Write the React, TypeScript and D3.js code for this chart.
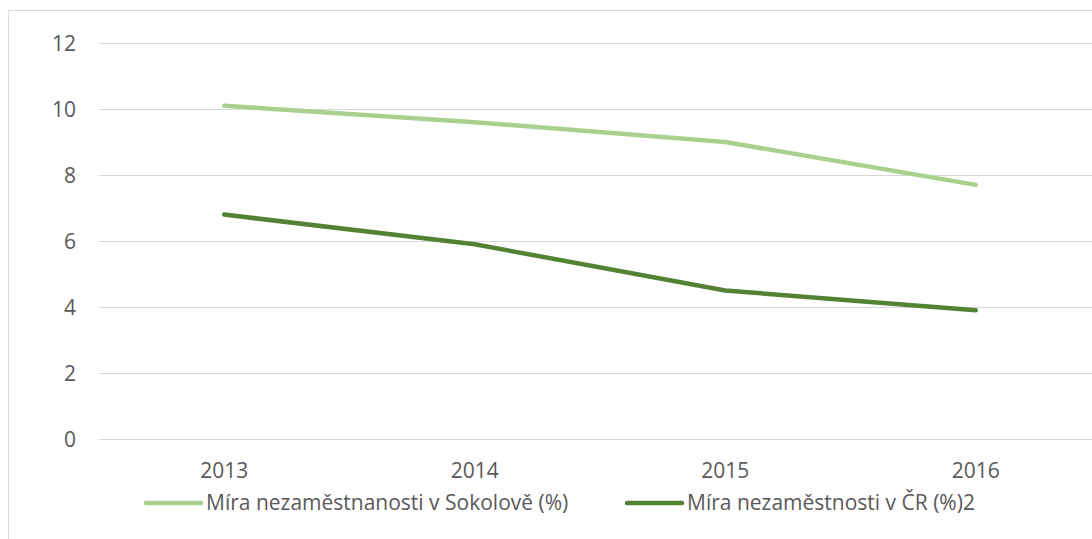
import React from "react";
import * as d3 from "d3";

const years = ["2013", "2014", "2015", "2016"];
const sokolov = [10.1, 9.6, 9.0, 7.7];
const cr = [6.8, 5.9, 4.5, 3.9];
const yTicks = [0, 2, 4, 6, 8, 10, 12];
const seriesNames = ["Míra nezaměstnanosti v Sokolově (%)", "Míra nezaměstnosti v ČR (%)2"];
const seriesColors = ["#A9D18E", "#548235"];

const W = 1092;
const H = 539;
const FONT = "'Open Sans', sans-serif";
const FS = 21;

export default function App() {
  const x = d3.scaleBand<string>().domain(years).range([99, 1101]);
  const y = d3.scaleLinear().domain([0, 12]).range([439, 43]);
  const cx = (d: string) => (x(d) as number) + x.bandwidth() / 2;
  const line = d3
    .line<number>()
    .x((_, i) => cx(years[i]))
    .y((v) => y(v));
  const series = [sokolov, cr];
  const legendX = [146, 627];

  return (
    <div style={{ position: "fixed", left: 0, top: 0, width: W, height: H, background: "#fff" }}>
      <svg width={W} height={H} style={{ display: "block" }}>
        <rect x={0} y={0} width={W} height={H} fill="#fff" />
        <rect x={8.5} y={10.5} width={W + 20} height={H + 20} fill="#fff" stroke="#D9D9D9" strokeWidth={1} />
        {yTicks.map((t) => (
          <g key={t}>
            <line x1={99} x2={1101} y1={Math.round(y(t)) + 0.5} y2={Math.round(y(t)) + 0.5} stroke="#D9D9D9" strokeWidth={1} />
            <text
              x={76}
              y={y(t)}
              dy="0.36em"
              textAnchor="end"
              fontFamily={FONT}
              fontSize={FS}
              fill="#595959"
            >
              {t}
            </text>
          </g>
        ))}
        {years.map((yr) => (
          <text key={yr} x={cx(yr)} y={478} textAnchor="middle" fontFamily={FONT} fontSize={FS} fill="#595959">
            {yr}
          </text>
        ))}
        {series.map((s, i) => (
          <path
            key={i}
            d={line(s) as string}
            fill="none"
            stroke={seriesColors[i]}
            strokeWidth={4.5}
            strokeLinecap="round"
            strokeLinejoin="round"
          />
        ))}
        {seriesNames.map((n, i) => (
          <g key={n}>
            <line
              x1={legendX[i]}
              x2={legendX[i] + 55}
              y1={503}
              y2={503}
              stroke={seriesColors[i]}
              strokeWidth={4.5}
              strokeLinecap="round"
            />
            <text x={legendX[i] + 60} y={510} fontFamily={FONT} fontSize={FS} fill="#595959">
              {n}
            </text>
          </g>
        ))}
      </svg>
    </div>
  );
}
